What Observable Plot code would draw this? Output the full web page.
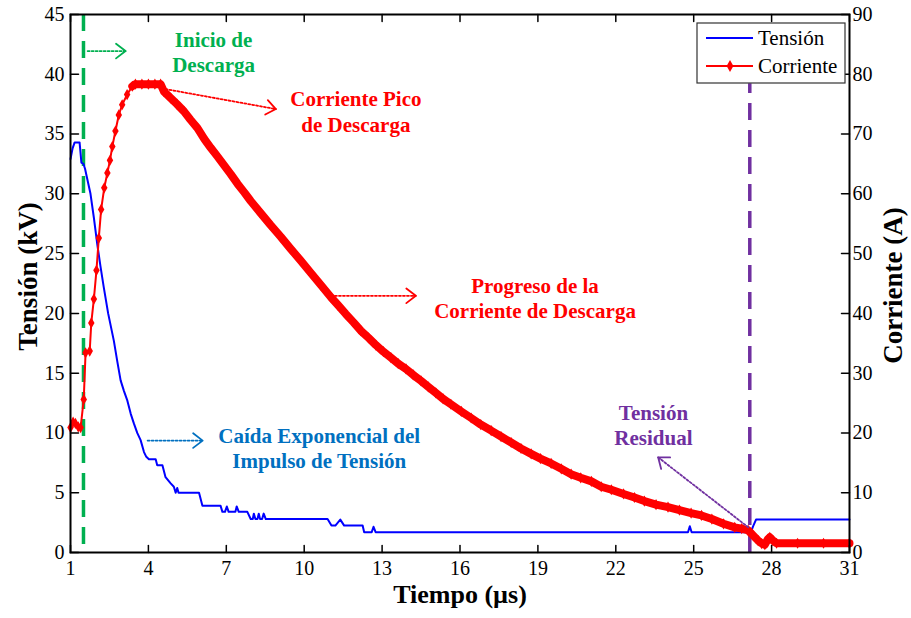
<!DOCTYPE html>
<html><head><meta charset="utf-8">
<script src="https://cdn.jsdelivr.net/npm/d3@7"></script>
<script src="https://cdn.jsdelivr.net/npm/@observablehq/plot@0.6"></script>
<style>body{margin:0;background:#fff}</style>
</head><body><div id="chart"></div>
<script>
// ---- data ----
const tensionT  = [1.00,1.08,1.16,1.35,1.42,1.50,1.56,1.65,1.77,1.90,2.03,2.15,2.28,2.45,2.67,2.80,2.93,3.06,3.19,3.32,3.44,3.57,3.70,3.83,3.92,4.02,4.28,4.34,4.54,4.66,4.85,4.98,5.05,5.11,5.16,5.95,6.08,6.78,6.85,6.95,7.02,7.09,7.35,7.40,7.48,7.81,7.94,8.02,8.06,8.12,8.20,8.25,8.30,8.38,8.44,8.52,10.90,11.05,11.20,11.39,11.54,12.25,12.31,12.60,12.67,12.75,24.78,24.85,24.92,27.20,27.29,27.40,31.00];
const tensionKV = [32.9,33.8,34.3,34.3,32.6,32.5,32.1,31.2,30.0,28.0,25.8,24.0,22.2,20.0,17.7,16.0,14.4,13.5,12.7,11.6,10.8,10.0,9.4,8.4,8.0,7.8,7.8,7.3,7.3,6.3,5.8,5.5,5.0,5.4,5.0,5.0,3.9,3.9,3.4,3.4,3.85,3.4,3.4,3.85,3.4,3.4,2.8,2.8,3.25,2.8,2.8,3.25,2.8,2.8,3.25,2.8,2.8,2.25,2.25,2.75,2.25,2.25,1.7,1.7,2.15,1.7,1.7,2.2,1.7,1.7,2.2,2.75,2.75];

const corrienteT = [1.00,1.10,1.19,1.30,1.39,1.51,1.58,1.74,1.80,1.90,2.00,2.09,2.18,2.30,2.42,2.52,2.61,2.73,2.86,2.99,3.18,3.38,3.50,3.75,4.00,4.25,4.47,4.60,4.86,5.10,5.37,5.62,5.89,6.15,6.40,6.65,6.91,7.17,7.43,7.70,7.94,8.30,8.70,9.10,9.48,9.85,10.25,10.65,11.03,11.30,11.60,11.90,12.18,12.48,12.76,13.05,13.34,13.62,13.92,14.20,14.50,14.78,15.07,15.35,15.65,16.05,16.43,16.80,17.20,17.58,17.97,18.35,18.74,19.10,19.51,19.90,20.28,20.65,21.06,21.44,21.83,22.30,22.72,23.10,23.55,24.01,24.45,24.90,25.30,25.70,26.15,26.58,26.85,27.10,27.30,27.48,27.62,27.74,27.85,27.93,28.05,28.19,29.00,30.00,31.00];
const corrienteA = [20.9,21.8,21.6,21.0,20.9,25.6,33.4,33.7,38.4,42.4,47.2,52.6,57.4,61.0,63.5,65.6,67.9,70.5,73.2,74.9,76.6,78.0,78.35,78.35,78.35,78.35,78.35,77.1,76.0,75.0,73.8,72.4,71.0,69.2,67.7,66.3,64.8,63.3,61.7,60.2,58.8,56.9,54.8,52.8,50.8,48.9,46.8,44.7,42.7,41.4,39.9,38.5,37.1,35.9,34.7,33.6,32.6,31.6,30.7,29.7,28.7,27.7,26.7,25.7,24.8,23.6,22.5,21.4,20.4,19.4,18.4,17.4,16.5,15.7,14.9,14.0,13.1,12.5,11.9,11.0,10.5,9.8,9.2,8.6,8.0,7.6,7.1,6.6,6.2,5.6,4.8,4.2,4.0,3.7,2.8,2.0,1.5,1.3,2.2,2.55,2.0,1.55,1.55,1.55,1.55];

const xTicks   = [1,4,7,10,13,16,19,22,25,28,31];
const yTicksKV = [0,5,10,15,20,25,30,35,40,45];
const yTicksA  = [0,10,20,30,40,50,60,70,80,90];
const seriesNames = ["Tensión","Corriente"];
const inicioDescargaT = 1.5;
const tensionResidualT = 27.16;

// ---- build ----
const kvPerA = 0.5; // 90 A on right axis ↔ 45 kV on left axis
const tension = tensionT.map((t,i)=>({t, v: tensionKV[i]}));
const corriente = corrienteT.map((t,i)=>({t, v: corrienteA[i]*kvPerA}));
const FONT = "'Liberation Serif','Times New Roman',serif";
const BLUE="#0000ff", RED="#ff0000", GREEN="#00b050", PURPLE="#7030a0", ABLUE="#0070c0";
const tickShape = {draw(ctx, l){ ctx.moveTo(0,0); ctx.lineTo(0,-l); }};

function dottedArrow(x1,y1,x2,y2,color,pxLen){
  return [
    Plot.arrow({length:1},{x1,y1,x2,y2,stroke:color,strokeWidth:1.8,strokeDasharray:"2,2",headLength:0,bend:0}),
    Plot.arrow({length:1},{x1,y1,x2,y2,stroke:color,strokeWidth:1.8,headLength:10,headAngle:75,bend:0,insetStart:pxLen-2})
  ];
}
function note(txt,x,y,color){
  return Plot.text([txt],{x:()=>x,y:()=>y,fill:color,fontWeight:"bold",fontSize:21,lineHeight:1.2,textAnchor:"middle"});
}

const chart = Plot.plot({
  width: 911, height: 618,
  marginLeft: 70, marginRight: 62, marginTop: 14, marginBottom: 66,
  style: {fontFamily: FONT, fontSize: "20px", color: "#000", background: "#fff", overflow: "visible"},
  x: {domain: [1,31]},
  y: {domain: [0,45]},
  marks: [
    Plot.ruleX([inicioDescargaT], {stroke: GREEN, strokeWidth: 3.5, strokeDasharray: "17,10"}),
    Plot.ruleX([tensionResidualT], {y1: 0, y2: 39.2, stroke: PURPLE, strokeWidth: 3.5, strokeDasharray: "17,10"}),
    Plot.line(tension, {x:"t", y:"v", stroke: BLUE, strokeWidth: 2}),
    Plot.line(corriente.filter(d=>d.t>=3.3), {x:"t", y:"v", stroke: RED, strokeWidth: 8}),
    Plot.line(corriente, {x:"t", y:"v", stroke: RED, strokeWidth: 2}),
    Plot.dot(corriente, {x:"t", y:"v", symbol:"diamond", r:3.4, fill: RED}),
    Plot.axisX(xTicks, {tickSize:0, tickPadding:8, fontSize:20, label:null}),
    Plot.axisY(yTicksKV, {anchor:"left", tickSize:0, tickPadding:6, fontSize:20, label:null}),
    Plot.axisY(yTicksA.map(a=>a*kvPerA), {anchor:"right", tickFormat: d=>d/kvPerA, tickSize:0, tickPadding:3, fontSize:20, label:null}),
    Plot.vector(xTicks, {x: d=>d, y: ()=>0, length: 7, rotate: 0, anchor:"start", shape: tickShape, stroke:"#000", strokeWidth:1.5}),
    Plot.vector(xTicks, {x: d=>d, y: ()=>45, length: 7, rotate: 180, anchor:"start", shape: tickShape, stroke:"#000", strokeWidth:1.5}),
    Plot.vector(yTicksKV, {x: ()=>1, y: d=>d, length: 8, rotate: 90, anchor:"start", shape: tickShape, stroke:"#000", strokeWidth:1.5}),
    Plot.vector(yTicksA, {x: ()=>31, y: d=>d*kvPerA, length: 8, rotate: -90, anchor:"start", shape: tickShape, stroke:"#000", strokeWidth:1.5}),
    Plot.frame({stroke:"#000", strokeWidth:2}),
    Plot.text(["Tensión (kV)"], {frameAnchor:"left", dx:-42, dy:-7, rotate:-90, textAnchor:"middle", fontWeight:"bold", fontSize:27}),
    Plot.text(["Corriente (A)"], {frameAnchor:"right", dx:44, dy:2, rotate:-90, textAnchor:"middle", fontWeight:"bold", fontSize:27}),
    Plot.text(["Tiempo (µs)"], {frameAnchor:"bottom", dy:50, fontWeight:"bold", fontSize:26}),
    note("Inicio de\nDescarga", 6.51, 41.94, GREEN),
    ...dottedArrow(1.66, 41.94, 3.12, 41.94, GREEN, 38),
    note("Corriente Pico\nde Descarga", 11.99, 36.93, RED),
    ...dottedArrow(4.66, 38.76, 8.91, 37.09, RED, 112),
    note("Progreso de la\nCorriente de Descarga", 18.89, 21.35, RED),
    ...dottedArrow(11.03, 21.47, 14.30, 21.47, RED, 85),
    note("Caída Exponencial del\nImpulso de Tensión", 10.58, 8.77, ABLUE),
    ...dottedArrow(3.97, 9.36, 6.09, 9.36, ABLUE, 55),
    note("Tensión\nResidual", 23.45, 10.69, PURPLE),
    ...dottedArrow(27.1, 2.11, 23.63, 7.96, PURPLE, 114)
  ]
});
document.getElementById("chart").appendChild(chart);

// legend (box at top-right of the frame)
const svg = d3.select(chart);
const lg = svg.append("g").attr("transform", "translate(697,23)")
  .style("font-family", FONT).style("font-size", "21px");
lg.append("rect").attr("width",148).attr("height",60)
  .style("fill","#ffffff").style("stroke","#333").style("stroke-width","1.2px");
const colors = [BLUE, RED];
seriesNames.forEach((name,i)=>{
  const yy = 15 + i*28;
  lg.append("line").attr("x1",9).attr("x2",56).attr("y1",yy).attr("y2",yy).style("stroke",colors[i]).style("stroke-width","2px");
  if (i===1) lg.append("path").attr("d", d3.symbol(d3.symbolDiamond, 40)()).attr("transform",`translate(33,${yy})`).style("fill",RED);
  lg.append("text").attr("x",61).attr("y",yy).attr("dy","0.35em")
    .style("text-anchor","start").style("fill","#000").text(name);
});
</script>
</body></html>
